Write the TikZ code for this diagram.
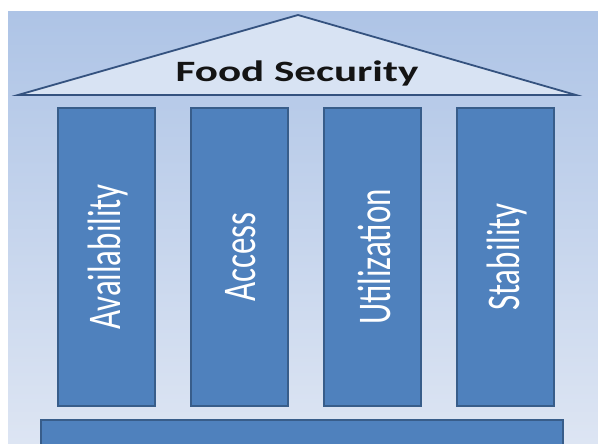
\documentclass[tikz,border=0pt]{standalone}
\usepackage{fontspec}
\setmainfont{Carlito}
\definecolor{bgTop}{HTML}{AEC4E6}
\definecolor{bgBot}{HTML}{DDE5F3}
\definecolor{roofFill}{HTML}{D8E3F3}
\definecolor{roofLine}{HTML}{34527F}
\definecolor{colFill}{HTML}{4F81BD}
\definecolor{colLine}{HTML}{385D8A}
\tikzset{
  pillar/.style={fill=colFill, draw=colLine, line width=1.6pt},
  pillartext/.style={text=white, rotate=90, inner sep=0pt,
     font=\fontsize{33}{40}\selectfont},
}
\newcommand{\vtext}[1]{\scalebox{1}[1.42]{#1}}
\begin{document}
\begin{tikzpicture}[x=1pt,y=-1pt]
\useasboundingbox (0,0) rectangle (598,444);
% background
\shade[top color=bgTop, bottom color=bgBot] (8,12) rectangle (598,444);
% roof
\draw[fill=roofFill, draw=roofLine, line width=1.8pt, line join=miter]
  (18,95) -- (298,15) -- (576,95) -- cycle;
\node[anchor=base, inner sep=0pt, text=black!92,
      font=\fontsize{29.5}{36}\selectfont\bfseries] (title) at (297,82)
  {\scalebox{1.46}[1]{Food Security}};
% pillars
\draw[pillar] (58,108) rectangle (155,406);
\draw[pillar] (191,108) rectangle (288,406);
\draw[pillar] (324,108) rectangle (421,406);
\draw[pillar] (457,108) rectangle (554,406);
\node[pillartext] (avail) at (108,257) {\vtext{Availability}};
\node[pillartext] (access) at (241,257) {\vtext{Access}};
\node[pillartext] (util) at (374,257) {\vtext{Utilization}};
\node[pillartext] (stab) at (507,257) {\vtext{Stability}};
% base
\draw[pillar] (41,420) rectangle (563,450);
\end{tikzpicture}
\end{document}
